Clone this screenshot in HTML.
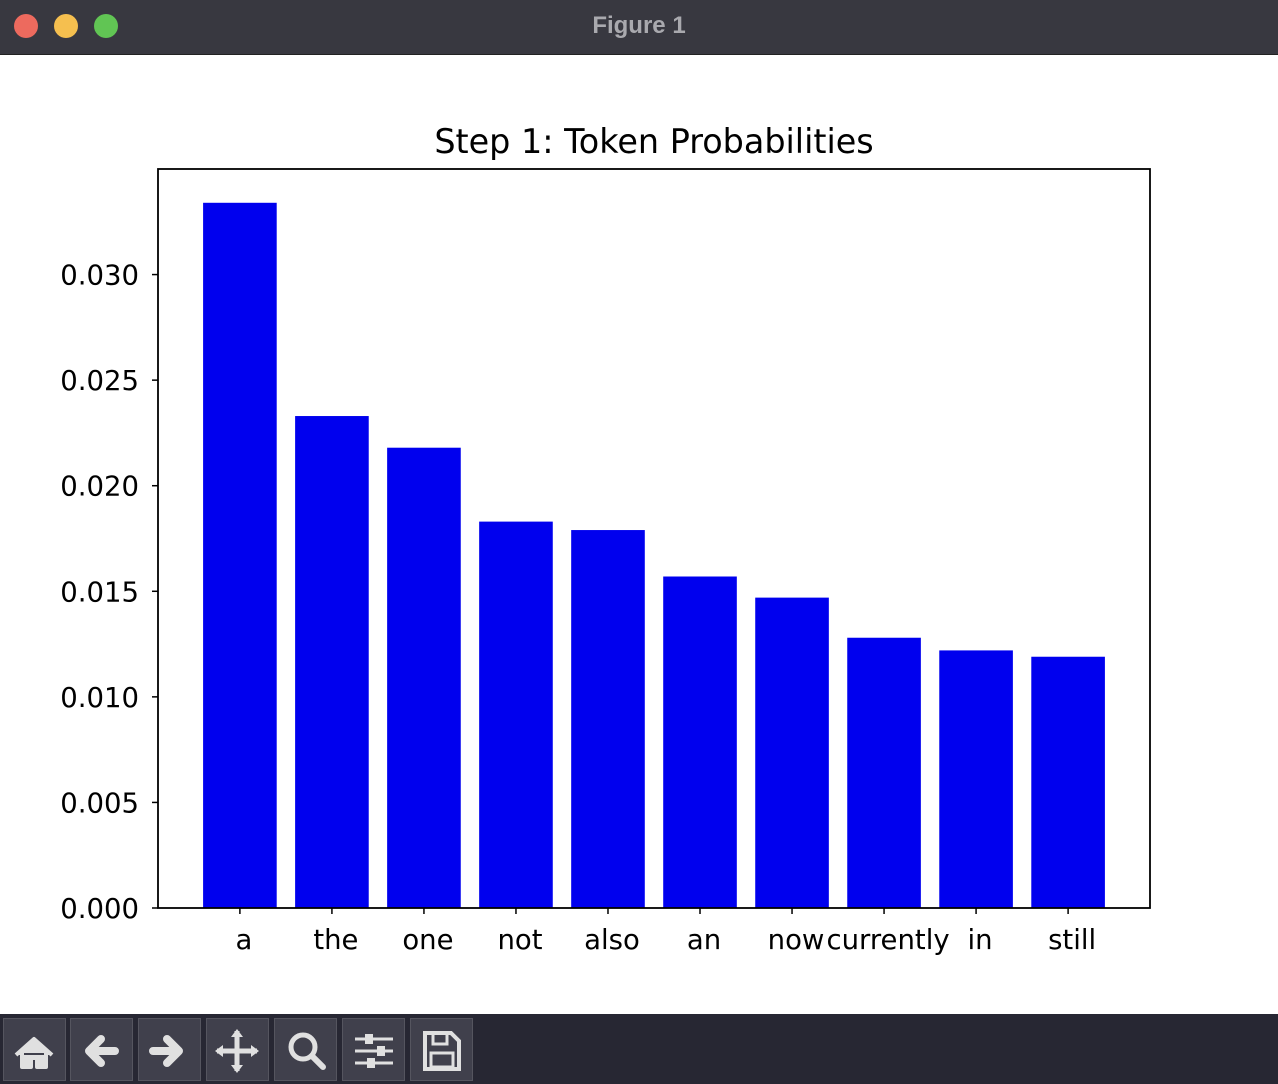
<!DOCTYPE html>
<html><head><meta charset="utf-8"><style>
body{margin:0;width:1278px;height:1084px;overflow:hidden;background:#fff;font-family:"DejaVu Sans","Liberation Sans",sans-serif}
#titlebar{position:absolute;left:0;top:0;width:1278px;height:54px;background:#383840;border-bottom:1px solid #222}
.dot{position:absolute;top:14px;width:24px;height:24px;border-radius:50%}
#wtitle{position:absolute;top:12px;width:100%;text-align:center;color:#a9a9ae;font:bold 24px "Liberation Sans",sans-serif}
#toolbar{position:absolute;left:0;top:1014px;width:1278px;height:70px;background:#272733}
.btn{position:absolute;top:4px;width:63px;height:63px;background:#40404c;border:1px solid #55555f;box-sizing:border-box}
</style></head><body>
<div id="titlebar">
<div class="dot" style="left:14px;background:#ed6a5e"></div>
<div class="dot" style="left:54px;background:#f5bf4f"></div>
<div class="dot" style="left:94px;background:#61c554"></div>
<div id="wtitle">Figure 1</div>
</div>
<svg id="chart" width="1278" height="960" style="position:absolute;left:0;top:54px"></svg>
<div id="toolbar">
<div class="btn" style="left:3px"><svg width="60" height="60"><path d="M12 36 L30 20 L48 36 M18 32 V48 H27 V39 H33 V48 H42 V32 Z" fill="#e0e0e0" stroke="#e0e0e0" stroke-width="4" stroke-linejoin="round"/></svg></div>
<div class="btn" style="left:70px"><svg width="60" height="60"><path d="M44 32 H18 M30 20 L18 32 L30 44" fill="none" stroke="#e0e0e0" stroke-width="8" stroke-linecap="round" stroke-linejoin="round"/></svg></div>
<div class="btn" style="left:138px"><svg width="60" height="60"><path d="M14 32 H40 M28 20 L40 32 L28 44" fill="none" stroke="#e0e0e0" stroke-width="8" stroke-linecap="round" stroke-linejoin="round"/></svg></div>
<div class="btn" style="left:206px"><svg width="60" height="60"><path d="M30 12 V52 M10 32 H50" stroke="#e0e0e0" stroke-width="5"/><path d="M30 10 L24 18 H36Z M30 54 L24 46 H36Z M8 32 L16 26 V38Z M52 32 L44 26 V38Z" fill="#e0e0e0"/></svg></div>
<div class="btn" style="left:274px"><svg width="60" height="60"><circle cx="28" cy="28" r="12" fill="none" stroke="#e0e0e0" stroke-width="5"/><path d="M37 37 L48 48" stroke="#e0e0e0" stroke-width="6" stroke-linecap="round"/></svg></div>
<div class="btn" style="left:342px"><svg width="60" height="60"><path d="M12 20H50M12 32H50M12 44H50" stroke="#e0e0e0" stroke-width="3"/><rect x="22" y="15" width="8" height="10" fill="#e0e0e0"/><rect x="34" y="27" width="8" height="10" fill="#e0e0e0"/><rect x="24" y="39" width="8" height="10" fill="#e0e0e0"/></svg></div>
<div class="btn" style="left:410px"><svg width="60" height="60"><path d="M14 14 H40 L48 22 V50 H14 Z" fill="none" stroke="#e0e0e0" stroke-width="4"/><rect x="22" y="14" width="14" height="11" fill="none" stroke="#e0e0e0" stroke-width="3"/><rect x="20" y="34" width="22" height="14" fill="none" stroke="#e0e0e0" stroke-width="3"/></svg></div>
</div>
<script>
const categories=["a","the","one","not","also","an","now","currently","in","still"];
const values=[0.0334,0.0233,0.0218,0.0183,0.0179,0.0157,0.0147,0.0128,0.0122,0.0119];
const yTicks=[0,0.005,0.010,0.015,0.020,0.025,0.030];
const yTickLabels=["0.000","0.005","0.010","0.015","0.020","0.025","0.030"];
const NS="http://www.w3.org/2000/svg";
const svg=document.getElementById('chart');
const L=158,R=1150,T=115,B=854;
const xmin=-0.89,xmax=9.89,ymax=0.035;
const xs=i=>L+(i-xmin)/(xmax-xmin)*(R-L);
const ys=v=>B-v/ymax*(B-T);
function mk(tag,attrs,txt){const e=document.createElementNS(NS,tag);for(const k in attrs)e.setAttribute(k,attrs[k]);if(txt!==undefined)e.textContent=txt;svg.appendChild(e);return e;}
const bw=(0.8)/(xmax-xmin)*(R-L);
categories.forEach((c,i)=>{
  const r=mk('rect',{x:xs(i)-bw/2,y:ys(values[i]),width:bw,height:B-ys(values[i]),fill:'#0000ee'});
  
  
  const tk=mk('line',{x1:xs(i),x2:xs(i),y1:B,y2:B+6,stroke:'#000','stroke-width':1.5});
  
  
  const t=mk('text',{x:xs(i)+4,y:B+41,'text-anchor':'middle','font-size':'27.5px',fill:'#000'},c);
  
  
});
yTicks.forEach((v,i)=>{
  const tk=mk('line',{x1:L-6,x2:L,y1:ys(v),y2:ys(v),stroke:'#000','stroke-width':1.5});
  
  
  const t=mk('text',{x:L-19,y:ys(v)+10,'text-anchor':'end','font-size':'27.5px',fill:'#000'},yTickLabels[i]);
  
  
});
const f=mk('rect',{x:L,y:T,width:R-L,height:B-T,fill:'none',stroke:'#000','stroke-width':1.8});


const ti=mk('text',{x:(L+R)/2,y:T-16,'text-anchor':'middle','font-size':'33.4px',fill:'#000'},'Step 1: Token Probabilities');


</script>
</body></html>
